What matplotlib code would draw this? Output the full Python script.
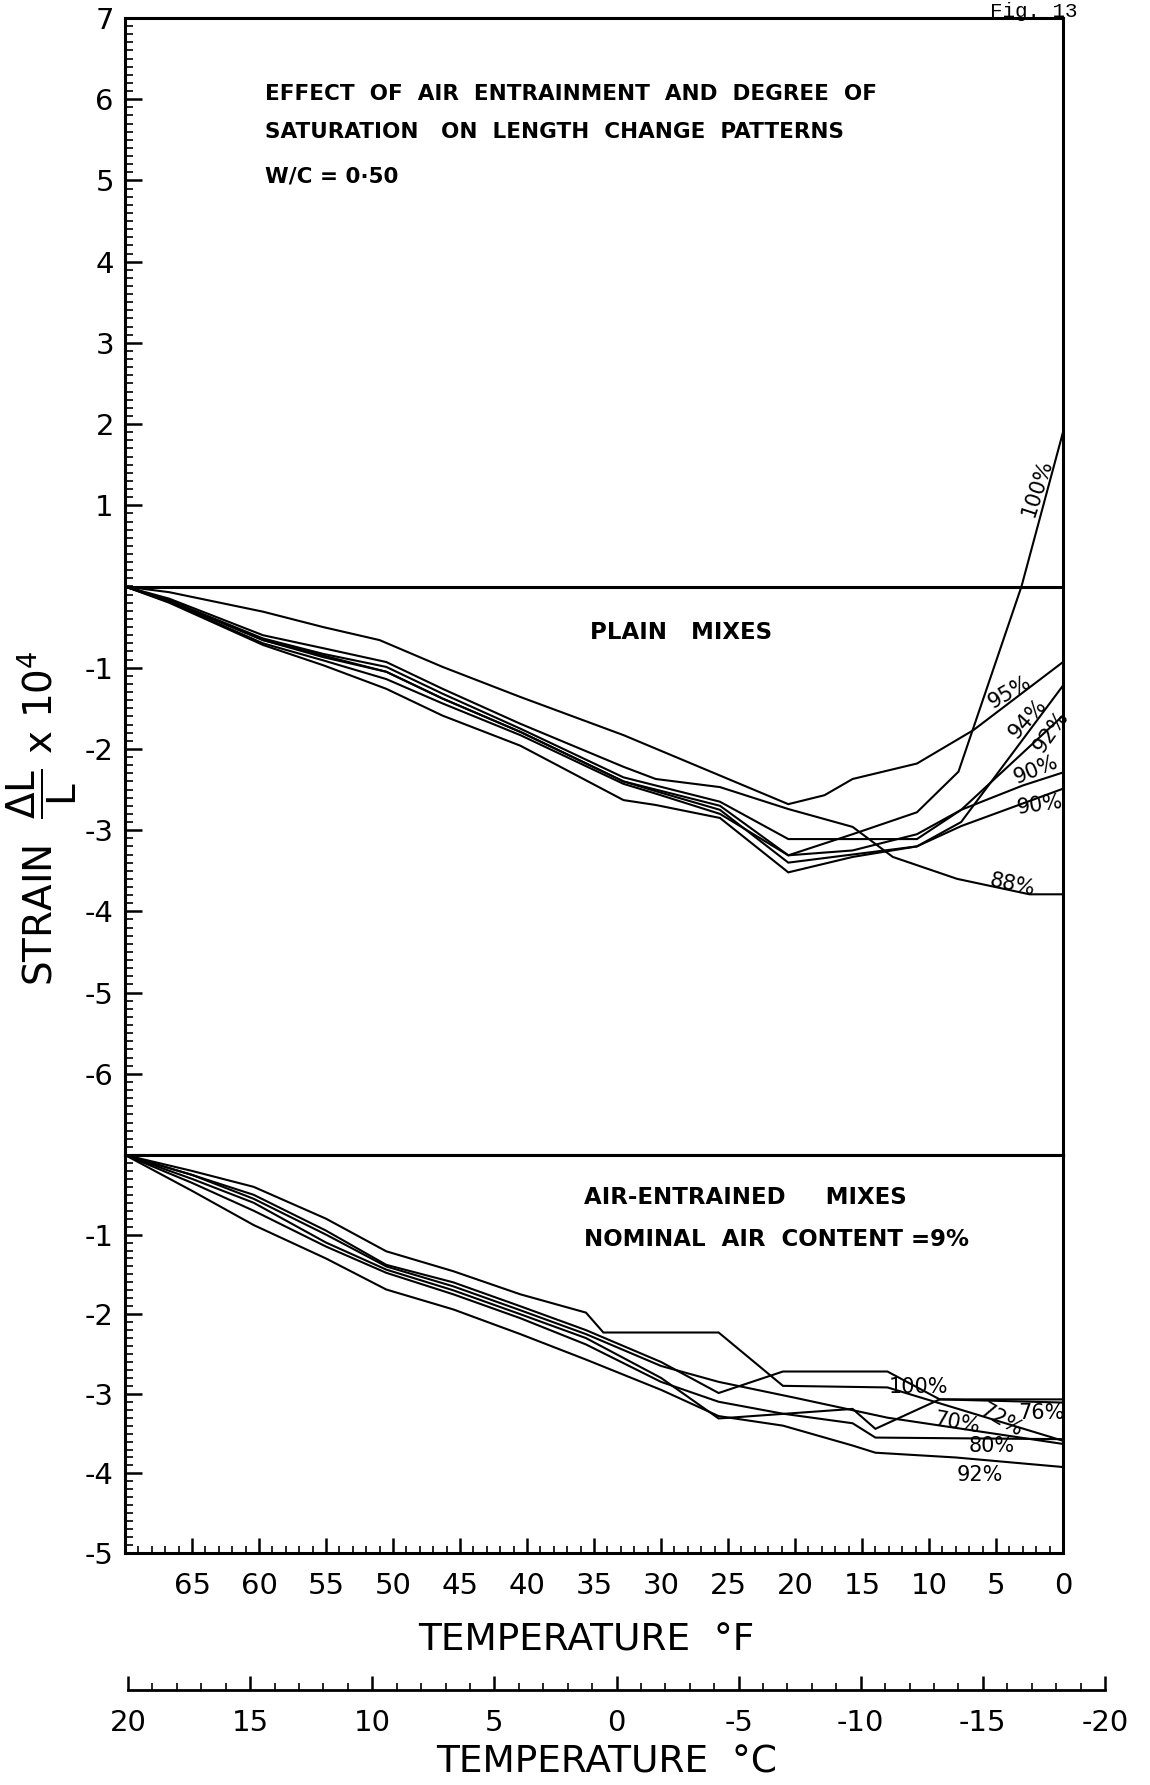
import matplotlib
matplotlib.use("Agg")
import matplotlib.pyplot as plt
from matplotlib.ticker import MultipleLocator, FixedLocator

plt.rcParams['font.family'] = ['DejaVu Sans']
plt.rcParams['mathtext.fontset'] = 'dejavusans'

# ---------------- data ----------------
temp_F_ticks = [65, 60, 55, 50, 45, 40, 35, 30, 25, 20, 15, 10, 5, 0]
temp_C_ticks = [20, 15, 10, 5, 0, -5, -10, -15, -20]
upper_yticks = [7, 6, 5, 4, 3, 2, 1, -1, -2, -3, -4, -5, -6]
lower_yticks = [-1, -2, -3, -4, -5]

# plain mixes (temperature degF, strain x 1e4)
plain_100_F = [70, 66.7, 59.7, 55.2, 50.5, 46.3, 40.5, 32.8, 30.4, 25.6, 20.5, 15.7, 10.9, 7.8, 3.1, 0]
plain_100_s = [0, -0.17, -0.66, -0.85, -1.05, -1.38, -1.79, -2.40, -2.50, -2.70, -3.31, -3.05, -2.78, -2.28, 0.0, 1.9]
plain_95_F = [70, 66.7, 59.7, 55.2, 51.0, 46.3, 40.5, 32.8, 20.5, 17.8, 15.7, 10.9, 6.7, 0]
plain_95_s = [0, -0.07, -0.31, -0.50, -0.66, -0.99, -1.36, -1.83, -2.68, -2.57, -2.37, -2.18, -1.77, -0.93]
plain_94_F = [70, 66.7, 59.7, 55.2, 50.5, 46.3, 40.5, 32.8, 30.4, 25.6, 20.5, 15.7, 10.9, 7.6, 0]
plain_94_s = [0, -0.18, -0.66, -0.87, -1.05, -1.38, -1.79, -2.40, -2.52, -2.75, -3.40, -3.30, -3.20, -2.90, -1.22]
plain_92_F = [70, 66.7, 59.7, 55.2, 50.5, 46.3, 40.5, 32.8, 30.4, 25.6, 20.5, 15.7, 10.9, 7.6, 0]
plain_92_s = [0, -0.19, -0.70, -0.91, -1.14, -1.44, -1.83, -2.43, -2.55, -2.80, -3.31, -3.25, -3.05, -2.75, -1.59]
plain_90a_F = [70, 66.7, 59.7, 55.2, 50.5, 46.3, 40.5, 32.8, 30.4, 25.6, 20.5, 10.9, 7.6, 3.0, 0]
plain_90a_s = [0, -0.17, -0.64, -0.83, -0.99, -1.32, -1.75, -2.35, -2.45, -2.65, -3.11, -3.11, -2.75, -2.45, -2.29]
plain_90b_F = [70, 66.7, 59.7, 55.2, 50.5, 46.3, 40.5, 32.8, 30.4, 25.6, 20.5, 15.7, 10.9, 7.6, 0]
plain_90b_s = [0, -0.20, -0.72, -0.97, -1.26, -1.59, -1.96, -2.63, -2.69, -2.85, -3.52, -3.33, -3.20, -2.95, -2.49]
plain_88_F = [70, 66.7, 59.7, 55.2, 50.5, 46.3, 40.5, 32.8, 30.4, 25.6, 20.5, 15.7, 12.7, 7.9, 2.5, 0]
plain_88_s = [0, -0.15, -0.60, -0.76, -0.93, -1.26, -1.69, -2.22, -2.37, -2.47, -2.74, -2.96, -3.33, -3.60, -3.79, -3.79]

# air-entrained mixes
air_100_F = [70, 65, 60.4, 55, 50.5, 45.5, 40.5, 35.6, 30, 25.7, 20.9, 13.1, 9.2, 0]
air_100_s = [0, -0.25, -0.50, -0.95, -1.38, -1.60, -1.90, -2.20, -2.60, -2.99, -2.72, -2.72, -3.07, -3.07]
air_72_F = [70, 65, 60.4, 55, 50.5, 45.5, 40.5, 35.6, 34.3, 25.7, 20.9, 13.1, 0]
air_72_s = [0, -0.20, -0.40, -0.80, -1.21, -1.46, -1.75, -1.98, -2.23, -2.23, -2.90, -2.92, -3.59]
air_76_F = [70, 65, 60.4, 55, 50.5, 45.5, 40.5, 35.6, 30, 25.7, 15.7, 14.0, 9.2, 0]
air_76_s = [0, -0.30, -0.60, -1.10, -1.44, -1.70, -2.00, -2.30, -2.80, -3.31, -3.19, -3.44, -3.07, -3.11]
air_70_F = [70, 65, 60.4, 55, 50.5, 45.5, 40.5, 35.6, 30, 25.7, 20, 13.1, 0]
air_70_s = [0, -0.25, -0.55, -1.00, -1.40, -1.65, -1.95, -2.25, -2.65, -2.85, -3.05, -3.30, -3.63]
air_80_F = [70, 65, 60.4, 55, 50.5, 45.5, 40.5, 35.6, 30, 25.7, 20.9, 15.7, 14.0, 0]
air_80_s = [0, -0.35, -0.70, -1.15, -1.48, -1.75, -2.05, -2.38, -2.85, -3.10, -3.25, -3.37, -3.55, -3.57]
air_92_F = [70, 65, 60.4, 55, 50.5, 45.5, 40.5, 35.6, 30, 25.7, 20.9, 15.7, 14.0, 8.0, 0]
air_92_s = [0, -0.45, -0.88, -1.30, -1.69, -1.94, -2.25, -2.57, -2.95, -3.28, -3.40, -3.65, -3.74, -3.80, -3.92]

plain_series = [(plain_100_F, plain_100_s), (plain_95_F, plain_95_s), (plain_94_F, plain_94_s),
                (plain_92_F, plain_92_s), (plain_90a_F, plain_90a_s), (plain_90b_F, plain_90b_s),
                (plain_88_F, plain_88_s)]
air_series = [(air_100_F, air_100_s), (air_72_F, air_72_s), (air_76_F, air_76_s),
              (air_70_F, air_70_s), (air_80_F, air_80_s), (air_92_F, air_92_s)]

# curve labels: text, temperature, strain, rotation
plain_labels = [("100%", 1.9, 1.21, 72), ("95%", 4.0, -1.30, 30), ("94%", 2.6, -1.63, 48),
                ("92%", 0.9, -1.79, 55), ("90%", 2.0, -2.26, 22), ("90%", 1.7, -2.69, 8),
                ("88%", 3.8, -3.68, -12)]
air_labels = [("100%", 10.8, -2.91, 0), ("76%", 1.6, -3.24, 0), ("72%", 4.6, -3.33, -30),
              ("70%", 7.9, -3.37, -10), ("80%", 5.3, -3.66, 0), ("92%", 6.2, -4.02, 0)]

# ---------------- figure ----------------
W, H = 1150, 1785
fig = plt.figure(figsize=(W / 100, H / 100), dpi=100)

def box(x0, y0, x1, y1):
    return [x0 / W, 1 - y1 / H, (x1 - x0) / W, (y1 - y0) / H]

LEFT, RIGHT = 125, 1063
ax1 = fig.add_axes(box(LEFT, 18, RIGHT, 1155))
ax2 = fig.add_axes(box(LEFT, 1155, RIGHT, 1553))

lw_curve = 1.5
spine_w = 2.2
for ax in (ax1, ax2):
    ax.set_xlim(70, 0)
    for s in ax.spines.values():
        s.set_linewidth(spine_w)
    ax.tick_params(axis='y', which='major', direction='in', length=12, width=1.8,
                   labelsize=21, pad=8)
    ax.tick_params(axis='y', which='minor', direction='in', length=6, width=1.2)
    ax.yaxis.set_minor_locator(MultipleLocator(0.1))

# upper axes: 7 to -7
ax1.set_ylim(-7, 7)
ax1.yaxis.set_major_locator(FixedLocator(upper_yticks))
ax1.set_yticklabels([str(t) for t in upper_yticks])
ax1.tick_params(axis='x', which='both', bottom=False, labelbottom=False)
ax1.axhline(0, color='black', lw=spine_w)
for xs, ys in plain_series:
    ax1.plot(xs, ys, color='black', lw=lw_curve, solid_joinstyle='miter')
for txt, x, y, r in plain_labels:
    ax1.text(x, y, txt, fontsize=15, rotation=r, ha='center', va='center',
             rotation_mode='anchor')

# lower axes: 0 to -5
ax2.set_ylim(-5, 0)
ax2.yaxis.set_major_locator(FixedLocator(lower_yticks))
ax2.set_yticklabels([str(t) for t in lower_yticks])
ax2.xaxis.set_major_locator(FixedLocator(temp_F_ticks))
ax2.set_xticklabels([str(t) for t in temp_F_ticks])
ax2.xaxis.set_minor_locator(MultipleLocator(1))
ax2.tick_params(axis='x', which='major', direction='in', length=11, width=1.8,
                labelsize=21, pad=14)
ax2.tick_params(axis='x', which='minor', direction='in', length=5, width=1.2)
for xs, ys in air_series:
    ax2.plot(xs, ys, color='black', lw=lw_curve, solid_joinstyle='miter')
for txt, x, y, r in air_labels:
    ax2.text(x, y, txt, fontsize=15, rotation=r, ha='center', va='center',
             rotation_mode='anchor')

# Celsius scale
axC = fig.add_axes(box(128, 1689, 1105, 1690))
axC.set_xlim(20, -20)
axC.set_ylim(0, 1)
for k in ('top', 'left', 'right'):
    axC.spines[k].set_visible(False)
axC.spines['bottom'].set_linewidth(2.0)
axC.set_yticks([])
axC.xaxis.set_major_locator(FixedLocator(temp_C_ticks))
axC.set_xticklabels([str(t) for t in temp_C_ticks])
axC.xaxis.set_minor_locator(MultipleLocator(1))
axC.tick_params(axis='x', which='major', direction='in', length=10, width=1.8,
                labelsize=21, pad=14)
axC.tick_params(axis='x', which='minor', direction='in', length=5, width=1.2)
axC.patch.set_visible(False)

# texts
def ftext(x, y, s, **kw):
    fig.text(x / W, 1 - y / H, s, **kw)

bold = dict(fontsize=15.5, fontweight='bold', va='center', ha='left')
ftext(265, 94, "EFFECT  OF  AIR  ENTRAINMENT  AND  DEGREE  OF", **bold)
ftext(265, 132, "SATURATION   ON  LENGTH  CHANGE  PATTERNS", **bold)
ftext(265, 177, "W/C = 0·50", **bold)
ftext(590, 632, "PLAIN   MIXES", fontsize=16.5, fontweight='bold', va='center', ha='left')
ftext(584, 1198, "AIR-ENTRAINED     MIXES", fontsize=16.5, fontweight='bold', va='center', ha='left')
ftext(584, 1240, "NOMINAL  AIR  CONTENT =9%", fontsize=16.5, fontweight='bold', va='center', ha='left')
ftext(586, 1640, "TEMPERATURE  °F", fontsize=27, va='center', ha='center')
ftext(607, 1762, "TEMPERATURE  °C", fontsize=27, va='center', ha='center')
ftext(42, 818, r"STRAIN  $\dfrac{\Delta\mathrm{L}}{\mathrm{L}}$ x 10$^{4}$", fontsize=28, rotation=90,
      va='center', ha='center')
ftext(990, 17, "Fig. 13", fontsize=15, va='baseline', ha='left', family='Liberation Mono')

fig.savefig("out.png", dpi=100)
